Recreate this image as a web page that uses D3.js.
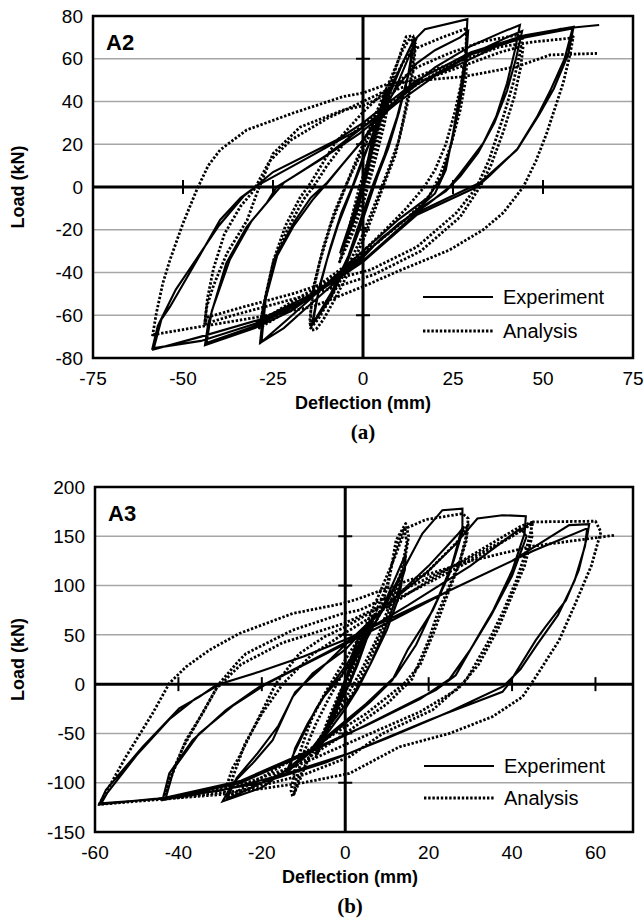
<!DOCTYPE html>
<html><head><meta charset="utf-8">
<script src="https://cdn.jsdelivr.net/npm/d3@7"></script>
<style>body{margin:0;background:#fff}svg{display:block}</style>
</head><body>
<svg id="chart" width="644" height="922"></svg>
<script>
// ---------- Panel (a) : A2 ----------
const a2XTicks = [-75, -50, -25, 0, 25, 50, 75];
const a2YTicks = [-80, -60, -40, -20, 0, 20, 40, 60, 80];
const a2AxisXTicks = [-50, -25, 25, 50];
const a2AxisYTicks = [60, 20, -20, -60];
const a2Experiment = [
[0,0],[2,18],[4,32],[6.6,47],[4,30],[1,8],[-1,-8],[-3,-18],[-6.4,-31],[-4,-20],[-1,-4],[1,10],[3,25],[6.5,46],[4,28],[1,5],[-2,-12],[-6.2,-30],[-3,-14],[0,2],
[3,22],[7,42],[11,58],[14.4,70],[13,55],[10,35],[7,18],[4,5],[2,-5],[-1,-20],[-5,-38],[-9,-52],[-14.3,-65],[-12.5,-50],[-10,-34],[-7,-18],[-4,-5],[-1,8],[3,26],[7,44],[11,58],[14.2,69],[12.5,52],[9.5,33],[6,15],[3,2],[0,-12],[-4,-32],[-9,-50],[-14,-64],[-12,-46],[-9,-28],[-6,-12],[-3,0],
[0,14],[5,32],[10,50],[15,70],[17.2,73.8],[29,78.5],[28.5,62],[27,45],[25,25],[23,8],[20,-3],[12,-15],[5,-24],[0,-33],[-8,-45],[-16,-57],[-22,-66],[-28.6,-73],[-27.5,-55],[-24,-32.6],[-19.4,-18.6],[-14,-6],[-10,1.7],[-5,12],[0,22],[5,35],[10,48],[15,58],[20,64],[27,70],[29.2,73],[28.6,58],[27,40],[24.5,20],[22,5],[18,-5],[10,-15],[0,-30],[-8,-42],[-15,-53],[-21,-62],[-28.2,-72.5],[-27,-52],[-23.5,-30],[-19,-16],[-14.5,-5],[-10,2],
[0,22],[10,42],[20,56],[30,66],[38,72],[43.6,75.8],[42.2,64],[40,48.5],[37,33],[33.4,20.5],[27,6.4],[24,0],[18,-8],[10,-17],[0,-32],[-10,-46],[-20,-58],[-30,-66],[-43.9,-74],[-43,-64],[-38,-35.7],[-32.3,-18.6],[-26.8,-7.6],[-24,0],[-12,12.6],[-1,25],[10,40],[20,52],[30,62],[40,70],[44.2,73],[42.5,60],[40,45],[36.5,30],[32,16],[27,5],[23,-2],[14,-12],[4,-26],[-6,-40],[-18,-55],[-30,-65],[-43.5,-73],[-42,-58],[-37,-34],[-31,-16],[-25,-4],[-22,2],
[-10,15],[0,28],[15,48],[30,62],[45,70],[58.2,74.2],[56,60],[52,45],[48.3,32.7],[42.7,17.3],[32.5,2],[30,0],[15,-12],[1,-33],[-14,-50],[-28.6,-62],[-45,-70],[-58.2,-76],[-56,-62],[-53.6,-56],[-45,-31],[-39.7,-15.4],[-34,-5],[-30,0],[-25,7],[-7.3,22],[0,30],[15,50],[30,63],[45,71],[58.5,75],[57,62],[53,46],[49,34],[43,18],[35,5],[31.6,0],[15,-13],[0,-35],[-15,-52],[-30,-64],[-45,-72],[-58.5,-75.5],[-57,-65],[-52,-48],[-46,-33],[-40,-18],[-33,-4],[-29,1],[-15,14],[0,28],[20,52],[40,68],[55,74],[65.6,75.8]
];
const a2Analysis = [
[0,0],[3,22],[6,40],[8,50],[6,35],[3,15],[0,-5],[-3,-20],[-6,-33],[-4,-22],[-1,-5],[2,12],[5,32],[8,48],[6,30],[3,10],[0,-8],[-3,-22],[-6.5,-35],[-4,-20],[-1,0],[3,20],
[6,38],[9,55],[10.7,64],[12,70.3],[13.9,70.7],[14.4,65.6],[13,47],[11,30],[9,15],[6,2],[3,-12],[0,-25],[-4,-40],[-8,-53],[-11,-62],[-13,-66.5],[-14.3,-67],[-14.8,-63],[-14,-50],[-12,-35],[-9,-18],[-6,-5],[-3,8],[0,20],[4,36],[8,52],[11,64],[13,69.5],[14.6,67],[14,55],[12.5,40],[10,22],[7,8],[4,-5],[0,-22],[-5,-40],[-9,-52],[-12.5,-62],[-14.6,-66],[-14.5,-58],[-13.5,-45],[-11,-28],[-8,-12],[-5,0],[-1,14],[4,32],[8,48],[11,58],[13.5,64],
[16.3,66],[22,70],[28.8,74.2],[28.6,65],[27.5,50],[25.5,35],[23,20],[20,8],[17,0],[12,-10],[5,-22],[0,-30],[-8,-42],[-16,-52],[-22,-59],[-28.8,-66],[-27.5,-55],[-25,-35.6],[-21,-20],[-16.6,-6],[-13.8,0],[-10,10],[-3.6,24],[5,36],[15,48],[22,55],[29,62],[28.5,50],[27,36],[24.5,20],[21.5,6],[18.5,-4],[12,-15],[4,-26],[-5,-37],[-14,-48],[-22,-56],[-28.5,-63],[-27.2,-52],[-24.8,-34],[-21.5,-18],[-17.5,-5],[-14.5,2],
[-8,20],[0,35],[5.6,44],[15,56],[24,62.6],[33,68],[42.7,71],[44.3,70],[43.5,62],[41.7,48.5],[39,33],[35,12.6],[31.6,0],[26,-12],[15,-28],[2,-38.8],[-5.5,-42],[-19,-49.7],[-33,-56],[-43.4,-61],[-44,-65],[-43.4,-56],[-41.5,-46],[-37.8,-31],[-32.2,-15.6],[-29.5,-3],[-25,15.6],[-17.5,28],[-5.5,36],[0,38],[10,46],[20,52],[30,58],[38,63],[44.5,66],[43.8,56],[42,42],[39,26],[35.5,10],[32.5,0],[27,-14],[16,-30],[3,-41],[-10,-48],[-25,-55],[-36,-60],[-44,-64],[-43.2,-52],[-41.5,-38],[-38.5,-22],[-34,-9],[-30.5,-2],
[-26,12],[-20,22],[-10,32],[0,40],[10,48],[20,55],[30.6,61],[38,65.6],[48,68],[57.5,69.6],[58.4,70.3],[57.5,62],[55.6,48.6],[51,25],[48,12],[44.5,0],[39,-12],[33.4,-20],[24,-29.5],[10.3,-39],[0,-46.6],[-14,-56],[-28.6,-60.7],[-44,-65],[-58,-69],[-58.5,-70],[-57.4,-59],[-55.6,-45],[-53.6,-34],[-50,-17],[-46.2,-1.4],[-43,10],[-39.7,17.3],[-32.3,26.7],[-19.4,34.6],[-5.5,42.3],[0,44],[7.4,48.5],[20,50.5],[27.8,51.6],[42.7,56.3],[52,61.8],[65,62.5]
];

// ---------- Panel (b) : A3 ----------
const a3XTicks = [-60, -40, -20, 0, 20, 40, 60];
const a3YTicks = [-150, -100, -50, 0, 50, 100, 150, 200];
const a3AxisXTicks = [-40, -20, 20, 40, 60];
const a3AxisYTicks = [150, 100, 50, -50, -100];
const a3Experiment = [
[0,0],[1.5,25],[3,45],[1.5,25],[0,0],[-1.5,-20],[-3,-38],[-1.5,-20],[0,0],[1.5,28],[3.2,48],[1.5,24],[0,2],[-1.5,-18],[-3.2,-40],[-1.5,-18],[0,2],
[3,38],[5,56],[7,70],[5.5,50],[3,20],[1,0],[-2,-22],[-5,-50],[-7,-72],[-5,-52],[-3,-30],[-1,-8],[1,12],[4,42],[7,68],[5,45],[2,12],[0,-8],[-3,-35],[-7,-70],[-5,-48],[-2,-18],[0,5],
[4,38],[8,68],[11,98],[14.5,132],[14.3,116],[12,85],[9,50],[6,20],[3,-5],[0,-25],[-4,-48],[-9,-70],[-14.2,-90.6],[-12.5,-72],[-10,-50],[-7,-25],[-4,-5],[0,18],[5,48],[9,75],[14,115],[13,90],[10,55],[6,20],[2,-10],[-3,-38],[-8,-65],[-13.5,-88],[-12,-65],[-9,-40],[-5,-12],[-1,8],
[5,44.6],[13,108.8],[18.5,152.8],[23.3,176.5],[28.1,178],[28.1,159.5],[25,112],[21,75],[15,35],[11.3,4],[6,-18],[0,-40],[-10,-75],[-20,-105],[-29.4,-119],[-27,-100.7],[-22.2,-80.4],[-17.4,-56.8],[-12.6,-12.9],[-7.8,10.9],[0,35],[10,80],[20,120],[27,152],[28.5,160],[26,125],[22,85],[17,40],[12,8],[5,-20],[-5,-55],[-15,-90],[-28.5,-117],[-26,-95],[-21,-70],[-16,-42],[-12,-8],[-6,15],
[0,40],[10,80],[20,115],[26,140],[31.7,168],[37.7,171.4],[43.3,170.4],[43,152.8],[40,115],[35.5,75],[31.3,44.6],[26.5,9],[21.7,-6],[9,-33],[1,-50],[-10,-72],[-25,-100],[-43.8,-117.6],[-42.2,-90.6],[-36.6,-56.8],[-28.6,-26.4],[-20.6,-2.7],[-10,20],[0,42],[15,80],[30,120],[42,158],[43.5,150],[40,110],[35,70],[30,35],[25,5],[18,-15],[5,-42],[-10,-70],[-25,-98],[-43,-115],[-41,-85],[-35,-50],[-27,-22],[-19,0],
[-5,30],[10,62],[25,95],[40,125],[53.7,161.3],[58.5,162.3],[58,150],[56,115.6],[52.9,85],[48,58],[45.7,44.6],[41,12.5],[39.3,0.7],[37.7,-7.8],[20,-36.5],[1,-70],[-15,-92],[-30,-108],[-45,-116],[-59,-122],[-57.4,-107.5],[-48.6,-63.6],[-39.8,-24.6],[-35,-12.9],[-31,-1],[-20.6,12.5],[-10,28],[0,45],[15,75],[30,105],[45,135],[58,158],[57.5,140],[55,105],[51,70],[46,40],[42,15],[38,-2],[25,-28],[10,-55],[-5,-80],[-20,-100],[-40,-115],[-58.5,-121],[-57,-110],[-50,-72],[-42,-35],[-36,-15],[-30,0]
];
const a3Analysis = [
[0,0],[2,30],[4,50],[6.5,68],[4,40],[1.5,8],[-1,-15],[-4,-45],[-7,-73.7],[-5,-50],[-2,-20],[1,10],[4,42],[6.5,66],[4,35],[1,0],[-2,-25],[-5,-55],[-7,-72],[-4.5,-40],[-1.5,-10],[2,20],
[5,48],[8,68],[10.5,105],[12.2,146],[14.5,163],[15.2,150],[14,118],[12.2,95],[9,55],[5,17.5],[2,-8],[-2,-30],[-6,-55],[-9.5,-82],[-11.5,-104],[-12.6,-114],[-13,-108],[-12,-85],[-10,-58],[-8,-35],[-5,-10],[-1,18],[3,45],[7,70],[10,100],[12,135],[14,158],[14.8,145],[13.5,115],[11,85],[8,50],[4,15],[0,-15],[-4,-40],[-8,-68],[-11,-95],[-12.3,-112],[-12,-100],[-10,-70],[-7,-40],[-4,-15],
[0,15],[4,50],[8,90],[12,130],[14.5,158],[19.4,167],[28.1,173],[29.5,168],[29,150],[27.5,125],[25,100],[22,70],[20,44.6],[16,5],[10,-20],[0,-50],[-10,-78],[-20,-100],[-28,-115],[-29,-110],[-27,-85],[-25.4,-73.7],[-20.6,-33],[-16.6,0.7],[-11,31],[-5,48],[0,58],[10,82],[20,115],[27,145],[29.5,162],[29,145],[27,118],[24,85],[21,50],[18,20],[14,0],[5,-30],[-10,-70],[-28,-114],[-27,-95],[-24,-60],[-20,-30],[-15,0],[-8,30],[0,52],
[10,78],[20,105],[30,130],[38,150],[42,160],[45,164.6],[44.5,155],[43,130],[41,105],[38,75],[34.5,44.6],[29,4],[21,-26],[9,-50],[1,-73.7],[-10,-92],[-25,-108],[-43.8,-117],[-42,-97],[-38.2,-56.8],[-34.2,-29.7],[-30.2,0.7],[-25.4,24.3],[-23.8,31],[-12.6,54.8],[-0.6,71.7],[3.4,75],[15,98],[30,128],[40,150],[44.5,162],[44.8,150],[43,120],[40,90],[36.5,55],[32,20],[27,-5],[18,-28],[5,-52],[-10,-80],[-25,-102],[-43.5,-116],[-42.5,-100],[-39,-65],[-35,-35],[-31,-5],
[-25,20],[-15,42],[0,62],[15,92],[30,125],[40,150],[45,164.6],[60,165.3],[61.3,154.5],[59,120],[55,80],[51.3,44.6],[45.7,7.4],[42.5,-12.9],[35.3,-33],[25,-50],[13,-63.6],[1,-90.6],[-10,-100],[-30,-112],[-59,-122],[-57.4,-110],[-52.6,-73.7],[-46.2,-29.7],[-42.2,0.7],[-38.2,17.5],[-32.6,34.5],[-25.4,51.4],[-12.6,71.7],[-0.6,81.8],[3.4,87],[15,105],[30,125],[45,140],[64.5,151]
];

const legendLabels = ["Experiment", "Analysis"];
const xTitle = "Deflection (mm)";
const yTitle = "Load (kN)";

const svg = d3.select("#chart");
const SANS = "'Liberation Sans', Arial, sans-serif";
const DOTS = "2.4,1.8";

function drawPanel(p) {
  const x = d3.scaleLinear().domain(p.xDomain).range([p.left, p.right]);
  const y = d3.scaleLinear().domain(p.yDomain).range([p.bottom, p.top]);
  const g = svg.append("g");

  g.selectAll(".grid").data(p.yTicks.filter(v => v !== 0 && v !== p.yDomain[0] && v !== p.yDomain[1]))
    .join("line").attr("x1", p.left).attr("x2", p.right)
    .attr("y1", d => y(d)).attr("y2", d => y(d))
    .attr("stroke", "#a6a6a6").attr("stroke-width", 1.5);

  const clipId = "clip" + p.id;
  svg.append("clipPath").attr("id", clipId).append("rect")
    .attr("x", p.left).attr("y", p.top).attr("width", p.right - p.left).attr("height", p.bottom - p.top);

  g.append("line").attr("x1", p.left).attr("x2", p.right).attr("y1", y(0)).attr("y2", y(0))
    .attr("stroke", "#000").attr("stroke-width", 3);
  g.append("line").attr("x1", x(0)).attr("x2", x(0)).attr("y1", p.top).attr("y2", p.bottom)
    .attr("stroke", "#000").attr("stroke-width", 3);
  g.selectAll(".tx").data(p.axisXTicks).join("line")
    .attr("x1", d => x(d)).attr("x2", d => x(d)).attr("y1", y(0) - 7).attr("y2", y(0) + 7)
    .attr("stroke", "#000").attr("stroke-width", 2);
  g.selectAll(".ty").data(p.axisYTicks).join("line")
    .attr("y1", d => y(d)).attr("y2", d => y(d)).attr("x1", x(0) - 7).attr("x2", x(0) + 7)
    .attr("stroke", "#000").attr("stroke-width", 2);

  const line = d3.line().x(d => x(d[0])).y(d => y(d[1]));
  const dg = g.append("g").attr("clip-path", `url(#${clipId})`);
  dg.append("path").datum(p.analysis).attr("d", line).attr("fill", "none")
    .attr("stroke", "#000").attr("stroke-width", 2.8).attr("stroke-dasharray", DOTS)
    .attr("stroke-linejoin", "round");
  dg.append("path").datum(p.experiment).attr("d", line).attr("fill", "none")
    .attr("stroke", "#000").attr("stroke-width", 2.1).attr("stroke-linejoin", "miter");

  g.append("rect").attr("x", p.left).attr("y", p.top).attr("width", p.right - p.left)
    .attr("height", p.bottom - p.top).attr("fill", "none").attr("stroke", "#000").attr("stroke-width", 2.5);

  g.selectAll(".yl").data(p.yTicks).join("text")
    .attr("x", p.left - 10).attr("y", d => y(d)).attr("dy", "0.35em")
    .attr("text-anchor", "end").attr("font-family", SANS).attr("font-size", 19)
    .text(d => d);
  g.selectAll(".xl").data(p.xTicks).join("text")
    .attr("x", d => x(d)).attr("y", p.bottom + 20).attr("dy", "0.35em")
    .attr("text-anchor", "middle").attr("font-family", SANS).attr("font-size", 19)
    .text(d => d);

  g.append("text").attr("x", p.xTitleX).attr("y", p.bottom + 45).attr("dy", "0.35em")
    .attr("text-anchor", "middle").attr("font-family", SANS).attr("font-weight", "bold")
    .attr("font-size", 18).text(xTitle);
  g.append("text").attr("transform", `translate(18,${(p.top + p.bottom) / 2}) rotate(-90)`)
    .attr("dy", "0.35em").attr("text-anchor", "middle").attr("font-family", SANS)
    .attr("font-weight", "bold").attr("font-size", 18).text(yTitle);
  g.append("text").attr("x", p.xTitleX).attr("y", p.bottom + 74).attr("dy", "0.35em")
    .attr("text-anchor", "middle").attr("font-family", "'Liberation Serif', 'Times New Roman', serif")
    .attr("font-weight", "bold").attr("font-size", 21).text(p.caption);
  g.append("text").attr("x", p.left + 13).attr("y", p.top + 26).attr("dy", "0.35em")
    .attr("font-family", SANS).attr("font-weight", "bold").attr("font-size", 22).text(p.name);

  const lg = g.append("g");
  [0, 1].forEach(i => {
    const ly = p.legendY[i];
    lg.append("line").attr("x1", p.legendX).attr("x2", p.legendX + 70).attr("y1", ly).attr("y2", ly)
      .attr("stroke", "#000").attr("stroke-width", i === 0 ? 2.2 : 2.8)
      .attr("stroke-dasharray", i === 0 ? null : DOTS);
    lg.append("text").attr("x", p.legendX + 80).attr("y", ly).attr("dy", "0.35em")
      .attr("font-family", SANS).attr("font-size", 20).text(legendLabels[i]);
  });
}

drawPanel({
  id: "a", name: "A2", caption: "(a)",
  left: 93, right: 633, top: 16, bottom: 358,
  xDomain: [-75, 75], yDomain: [-80, 80],
  xTicks: a2XTicks, yTicks: a2YTicks, axisXTicks: a2AxisXTicks, axisYTicks: a2AxisYTicks,
  experiment: a2Experiment, analysis: a2Analysis,
  xTitleX: 363, legendX: 423, legendY: [297, 331]
});
drawPanel({
  id: "b", name: "A3", caption: "(b)",
  left: 95, right: 633, top: 487, bottom: 832,
  xDomain: [-60, 69], yDomain: [-150, 200],
  xTicks: a3XTicks, yTicks: a3YTicks, axisXTicks: a3AxisXTicks, axisYTicks: a3AxisYTicks,
  experiment: a3Experiment, analysis: a3Analysis,
  xTitleX: 350, legendX: 424, legendY: [766, 798]
});
</script>
</body></html>
